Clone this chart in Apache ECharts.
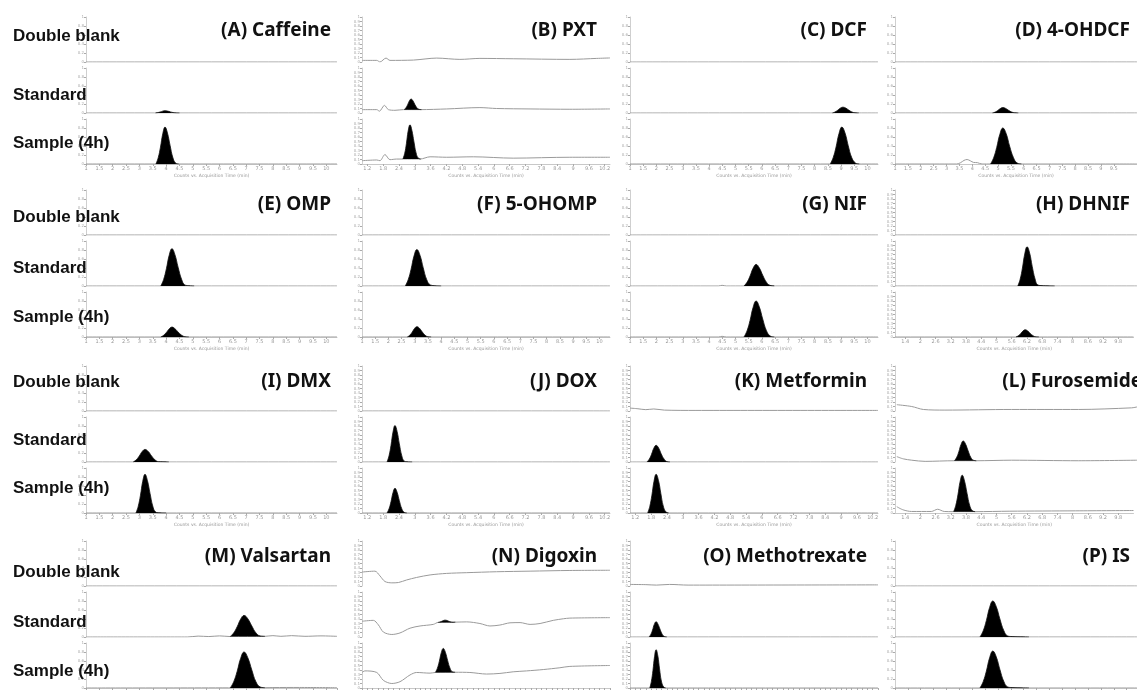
<!DOCTYPE html>
<html>
<head>
<meta charset="utf-8">
<script src="https://cdn.jsdelivr.net/npm/echarts@6/dist/echarts.min.js"></script>
<style>html,body{margin:0;padding:0;background:#fff;}#chart{width:1137px;height:690px;}</style>
</head>
<body>
<div id="chart"></div>
<script>
// ---------- labels ----------
const panelTitles = ['(A) Caffeine','(B) PXT','(C) DCF','(D) 4-OHDCF',
  '(E) OMP','(F) 5-OHOMP','(G) NIF','(H) DHNIF',
  '(I) DMX','(J) DOX','(K) Metformin','(L) Furosemide',
  '(M) Valsartan','(N) Digoxin','(O) Methotrexate','(P) IS'];
const rowLabels = ['Double blank','Standard','Sample (4h)'];
const xAxisName = 'Counts vs. Acquisition Time (min)';
const denseTicks = [false,true,false,false, false,false,false,true, false,true,true,true, false,true,true,false];

// ---------- traces (x: acquisition time, min; y: relative response) ----------
const flatLine = [[1,0],[10.4,0]];
const B_blankLine = [[1.0,0.036],[1.56,0.036],[1.68,0.0],[1.91,0.087],[2.06,0.036],[2.95,0.043],[3.83,0.087],[4.71,0.058],[5.47,0.08],[6.73,0.072],[8.88,0.058],[9.9,0.08],[10.4,0.09]];
const B_stdLine = [[1.0,0.075],[1.56,0.075],[1.66,0.04],[1.85,0.17],[2.0,0.075],[2.25,0.06],[2.57,0.075],[3.2,0.075],[4.21,0.09],[5.47,0.12],[6.1,0.1],[7.37,0.09],[8.88,0.083],[10.4,0.09]];
const B_smpLine = [[1.0,0.074],[1.56,0.089],[1.68,0.074],[1.87,0.21],[2.06,0.096],[2.31,0.11],[2.57,0.11],[3.2,0.11],[3.58,0.16],[4.21,0.15],[5.22,0.16],[6.73,0.13],[8.88,0.15],[10.4,0.15]];
const D_smpLine = [[1,0],[3.4,0],[3.55,0.03],[3.68,0.08],[3.8,0.1],[3.93,0.07],[4.05,0.035],[4.2,0.03],[4.38,0],[10.4,0]];
const G_stdLine = [[1,0],[4.35,0],[4.49,0.015],[4.65,0],[10.4,0]];
const G_smpLine = [[1,0],[4.35,0],[4.49,0.015],[4.65,0],[10.4,0]];
const K_blankLine = [[1,0.065],[1.3,0.05],[1.6,0.03],[1.9,0.045],[2.3,0.02],[3.5,0.013],[10.4,0.013]];
const L_blankLine = [[1.07,0.14],[1.65,0.10],[2.1,0.034],[2.94,0.02],[5.53,0.034],[8.12,0.034],[10.19,0.07],[10.4,0.09]];
const L_stdLine = [[1.07,0.12],[1.32,0.07],[1.65,0.04],[2.17,0.014],[3.3,0.028],[4.16,0.028],[5.53,0.04],[8.12,0.028],[10.4,0.04]];
const L_smpLine = [[1.07,0.14],[1.32,0.07],[1.65,0.034],[2.43,0.034],[2.68,0.083],[2.94,0.034],[3.3,0.03],[4.16,0.03],[5.53,0.04],[8.12,0.048],[10.4,0.055]];
const M_stdLine = [[1,0],[4.8,0],[5.2,0.02],[5.6,0.01],[6.0,0.025],[6.4,0.01],[7.7,0.015],[8.0,0.03],[8.3,0.015],[8.7,0.03],[9.2,0.015],[9.8,0.025],[10.4,0.015]];
const M_smpLine = [[1,0],[7.4,0.005],[8.0,0.01],[9.0,0.012],[10.4,0.006]];
const N_blankLine = [[1.0,0.31],[1.49,0.33],[1.68,0.225],[1.87,0.10],[2.13,0.07],[2.38,0.077],[2.69,0.134],[3.07,0.19],[3.58,0.246],[4.21,0.28],[4.97,0.296],[6.1,0.317],[7.37,0.33],[8.88,0.345],[10.4,0.35]];
const N_stdLine = [[1.0,0.35],[1.43,0.37],[1.62,0.27],[1.81,0.11],[2.13,0.056],[2.44,0.09],[2.82,0.196],[3.2,0.245],[3.7,0.28],[3.89,0.325],[4.54,0.33],[4.97,0.336],[5.47,0.30],[5.85,0.245],[6.23,0.266],[6.61,0.315],[6.99,0.32],[7.37,0.28],[7.75,0.30],[8.25,0.37],[8.63,0.405],[8.88,0.42],[10.4,0.43]];
const N_smpLine = [[1.0,0.345],[1.11,0.38],[1.56,0.345],[1.81,0.17],[2.13,0.10],[2.44,0.14],[2.82,0.29],[3.07,0.345],[3.58,0.33],[3.78,0.345],[4.53,0.35],[5.09,0.345],[5.72,0.31],[6.23,0.324],[6.73,0.36],[7.24,0.38],[7.87,0.41],[8.5,0.45],[8.88,0.48],[10.4,0.5]];
const O_blankLine = [[1,0.035],[1.6,0.03],[2.0,0.02],[2.5,0.035],[3.2,0.02],[10.4,0.025]];

// ---------- peaks (standard / sample 4h) ----------
const A_stdPeak = [[3.60,0],[3.69,0.009],[3.78,0.023],[3.87,0.041],[3.96,0.05],[4.06,0.042],[4.16,0.025],[4.27,0.009],[4.37,0.002],[4.50,0]];
const A_smpPeak = [[3.62,0],[3.705,0.14],[3.79,0.377],[3.875,0.672],[3.96,0.82],[4.05,0.689],[4.15,0.41],[4.25,0.148],[4.35,0.025],[4.47,0]];
const B_stdPeak = [[2.60,0.075],[2.665,0.115],[2.73,0.183],[2.795,0.268],[2.86,0.31],[2.93,0.272],[3.00,0.193],[3.08,0.117],[3.16,0.082],[3.25,0.075]];
const B_smpPeak = [[2.55,0.11],[2.62,0.239],[2.685,0.46],[2.75,0.733],[2.82,0.87],[2.89,0.748],[2.97,0.49],[3.05,0.247],[3.13,0.133],[3.225,0.11]];
const C_stdPeak = [[8.67,0],[8.77,0.022],[8.87,0.06],[8.97,0.107],[9.07,0.13],[9.18,0.109],[9.29,0.065],[9.41,0.023],[9.53,0.004],[9.67,0]];
const C_smpPeak = [[8.59,0],[8.70,0.14],[8.81,0.377],[8.92,0.672],[9.03,0.82],[9.15,0.689],[9.27,0.41],[9.40,0.148],[9.54,0.025],[9.69,0]];
const D_stdPeak = [[4.79,0],[4.89,0.02],[4.99,0.055],[5.09,0.098],[5.19,0.12],[5.30,0.101],[5.41,0.06],[5.53,0.022],[5.65,0.004],[5.79,0]];
const D_smpPeak = [[4.71,0],[4.83,0.136],[4.95,0.368],[5.07,0.656],[5.19,0.80],[5.32,0.672],[5.45,0.40],[5.60,0.144],[5.74,0.024],[5.91,0]];
const E_stdPeak = [[3.80,0],[3.905,0.141],[4.01,0.382],[4.115,0.681],[4.22,0.83],[4.33,0.697],[4.45,0.415],[4.58,0.149],[4.70,0.025],[4.85,0.008],[5.05,0]];
const E_smpPeak = [[3.80,0],[3.905,0.037],[4.01,0.101],[4.115,0.18],[4.22,0.22],[4.33,0.185],[4.45,0.11],[4.58,0.04],[4.70,0.007],[4.85,0]];
const F_stdPeak = [[2.64,0],[2.75,0.138],[2.86,0.373],[2.97,0.664],[3.08,0.81],[3.20,0.68],[3.32,0.405],[3.45,0.146],[3.59,0.024],[3.74,0.008],[4.0,0]];
const F_smpPeak = [[2.72,0],[2.81,0.039],[2.90,0.106],[2.99,0.189],[3.08,0.23],[3.18,0.193],[3.28,0.115],[3.39,0.041],[3.49,0.007],[3.62,0]];
const G_stdPeak = [[5.32,0],[5.435,0.082],[5.55,0.221],[5.665,0.394],[5.78,0.48],[5.90,0.403],[6.03,0.24],[6.17,0.086],[6.31,0.014],[6.47,0]];
const G_smpPeak = [[5.32,0],[5.435,0.136],[5.55,0.368],[5.665,0.656],[5.78,0.80],[5.90,0.672],[6.03,0.40],[6.17,0.144],[6.31,0.024],[6.47,0]];
const H_stdPeak = [[5.77,0],[5.86,0.148],[5.95,0.40],[6.04,0.713],[6.13,0.87],[6.23,0.731],[6.33,0.435],[6.44,0.157],[6.54,0.026],[6.67,0.01],[7.2,0]];
const H_smpPeak = [[5.77,0],[5.86,0.027],[5.95,0.074],[6.04,0.131],[6.13,0.16],[6.23,0.134],[6.33,0.08],[6.44,0.029],[6.54,0.005],[6.67,0]];
const I_stdPeak = [[2.77,0],[2.88,0.048],[2.99,0.129],[3.10,0.23],[3.21,0.28],[3.33,0.235],[3.45,0.14],[3.58,0.05],[3.72,0.008],[3.87,0.005],[4.1,0]];
const I_smpPeak = [[2.87,0],[2.955,0.146],[3.04,0.396],[3.125,0.705],[3.21,0.86],[3.30,0.722],[3.40,0.43],[3.50,0.155],[3.60,0.026],[3.72,0.006],[4.0,0]];
const J_stdPeak = [[1.95,0],[2.025,0.138],[2.10,0.373],[2.175,0.664],[2.25,0.81],[2.33,0.68],[2.415,0.405],[2.505,0.146],[2.595,0.024],[2.70,0.006],[2.9,0]];
const J_smpPeak = [[1.95,0],[2.025,0.094],[2.10,0.253],[2.175,0.451],[2.25,0.55],[2.33,0.462],[2.415,0.275],[2.505,0.099],[2.595,0.017],[2.70,0]];
const K_stdPeak = [[1.64,0],[1.73,0.063],[1.815,0.17],[1.90,0.303],[1.99,0.37],[2.085,0.311],[2.18,0.185],[2.29,0.067],[2.39,0.011],[2.515,0]];
const K_smpPeak = [[1.67,0],[1.75,0.146],[1.83,0.396],[1.91,0.705],[1.99,0.86],[2.08,0.722],[2.17,0.43],[2.26,0.155],[2.36,0.026],[2.47,0]];
const L_stdPeak = [[3.31,0.028],[3.395,0.103],[3.48,0.23],[3.565,0.389],[3.65,0.468],[3.74,0.398],[3.84,0.248],[3.94,0.107],[4.04,0.041],[4.16,0.028]];
const L_smpPeak = [[3.31,0.03],[3.395,0.168],[3.48,0.403],[3.565,0.694],[3.65,0.84],[3.74,0.71],[3.84,0.435],[3.94,0.176],[4.04,0.054],[4.16,0.03]];
const M_stdPeak = [[6.40,0.01],[6.53,0.09],[6.66,0.226],[6.79,0.395],[6.92,0.48],[7.06,0.405],[7.21,0.245],[7.36,0.095],[7.52,0.024],[7.70,0.015]];
const M_smpPeak = [[6.40,0],[6.53,0.136],[6.66,0.368],[6.79,0.656],[6.92,0.80],[7.06,0.672],[7.21,0.40],[7.36,0.144],[7.52,0.024],[7.70,0.005]];
const N_stdPeak = [[3.89,0.325],[3.955,0.334],[4.02,0.348],[4.085,0.366],[4.15,0.375],[4.22,0.367],[4.29,0.35],[4.37,0.334],[4.45,0.327],[4.54,0.33]];
const N_smpPeak = [[3.78,0.345],[3.855,0.436],[3.93,0.591],[4.005,0.784],[4.08,0.88],[4.16,0.794],[4.245,0.613],[4.335,0.441],[4.425,0.361],[4.53,0.35]];
const O_stdPeak = [[1.72,0],[1.79,0.058],[1.855,0.156],[1.92,0.279],[1.99,0.34],[2.06,0.286],[2.14,0.17],[2.22,0.061],[2.30,0.01],[2.395,0]];
const O_smpPeak = [[1.75,0],[1.81,0.145],[1.87,0.391],[1.93,0.697],[1.99,0.85],[2.055,0.714],[2.12,0.425],[2.19,0.153],[2.27,0.026],[2.35,0]];
const P_stdPeak = [[4.30,0],[4.425,0.136],[4.55,0.368],[4.675,0.656],[4.80,0.80],[4.935,0.672],[5.075,0.40],[5.225,0.144],[5.375,0.024],[5.55,0.01],[6.2,0]];
const P_smpPeak = [[4.30,0],[4.425,0.14],[4.55,0.377],[4.675,0.672],[4.80,0.82],[4.935,0.689],[5.075,0.41],[5.225,0.148],[5.375,0.025],[5.55,0.01],[6.2,0]];

const panelLines = [
  [flatLine, flatLine, flatLine], [B_blankLine, B_stdLine, B_smpLine], [flatLine, flatLine, flatLine], [flatLine, flatLine, D_smpLine],
  [flatLine, flatLine, flatLine], [flatLine, flatLine, flatLine], [flatLine, G_stdLine, G_smpLine], [flatLine, flatLine, flatLine],
  [flatLine, flatLine, flatLine], [flatLine, flatLine, flatLine], [K_blankLine, flatLine, flatLine], [L_blankLine, L_stdLine, L_smpLine],
  [flatLine, M_stdLine, M_smpLine], [N_blankLine, N_stdLine, N_smpLine], [O_blankLine, flatLine, flatLine], [flatLine, flatLine, flatLine]
];
const panelPeaks = [
  [A_stdPeak, A_smpPeak], [B_stdPeak, B_smpPeak], [C_stdPeak, C_smpPeak], [D_stdPeak, D_smpPeak],
  [E_stdPeak, E_smpPeak], [F_stdPeak, F_smpPeak], [G_stdPeak, G_smpPeak], [H_stdPeak, H_smpPeak],
  [I_stdPeak, I_smpPeak], [J_stdPeak, J_smpPeak], [K_stdPeak, K_smpPeak], [L_stdPeak, L_smpPeak],
  [M_stdPeak, M_smpPeak], [N_stdPeak, N_smpPeak], [O_stdPeak, O_smpPeak], [P_stdPeak, P_smpPeak]
];

// ---------- layout ----------
const colLeft = [86, 362, 630, 895];
const colWidth = [251, 248, 248, 242];
const rowTop = [17, 190, 366, 541];
const subOffset = [0, 51, 102];
const subH = 45;
const titleRight = [331, 597, 867, 1130];
const titleCenterY = [31, 205, 382, 557];
const labelCenterY = [[36, 95, 143], [217, 268, 317], [382, 440, 488], [572, 622, 671]];

const grids = [], xAxes = [], yAxes = [], series = [], graphics = [];
for (let i = 0; i < 16; i++) {
  const c = i % 4, r = Math.floor(i / 4);
  for (let k = 0; k < 3; k++) {
    const g = i * 3 + k;
    const bottomSub = k === 2;
    grids.push({left: colLeft[c], width: colWidth[c], top: rowTop[r] + subOffset[k], height: subH});
    xAxes.push({
      type: 'value', gridIndex: g, min: 1, max: 10.4, interval: denseTicks[i] ? 0.2 : 0.5,
      axisLine: {show: bottomSub, lineStyle: {color: '#c8c8c8', width: 1}},
      axisTick: {show: bottomSub, length: 2, lineStyle: {color: '#aaa'}},
      axisLabel: {show: bottomSub && r < 3, fontSize: 5, color: '#999', margin: 2, hideOverlap: true,
        fontFamily: 'DejaVu Sans'},
      name: (bottomSub && r < 3) ? xAxisName : '', nameLocation: 'middle', nameGap: 9,
      nameTextStyle: {fontSize: 4.5, color: '#999', fontFamily: 'DejaVu Sans'},
      splitLine: {show: false}
    });
    yAxes.push({
      type: 'value', gridIndex: g, min: 0, max: 1, interval: denseTicks[i] ? 0.1 : 0.2,
      axisLine: {show: true, lineStyle: {color: '#cfcfcf', width: 1}},
      axisTick: {show: true, length: 2, lineStyle: {color: '#aaa'}},
      axisLabel: {show: true, fontSize: 4, color: '#aaa', margin: 2, fontFamily: 'DejaVu Sans'},
      splitLine: {show: false}
    });
    series.push({
      type: 'line', xAxisIndex: g, yAxisIndex: g, data: panelLines[i][k], symbol: 'none',
      smooth: 0.3, lineStyle: {color: '#9a9a9a', width: 1}, z: 2, silent: true
    });
    if (k > 0) {
      const pk = panelPeaks[i][k - 1];
      series.push({
        type: 'line', xAxisIndex: g, yAxisIndex: g, data: pk, symbol: 'none', smooth: 0.45,
        lineStyle: {color: '#111', width: 0.8},
        areaStyle: {color: '#000', opacity: 1, origin: pk[0][1]}, z: 3, silent: true
      });
    }
    if (c === 0) {
      graphics.push({type: 'text', x: 13, y: labelCenterY[r][k], z: 10,
        style: {text: rowLabels[k], font: 'bold 17px "Liberation Sans", Arial, sans-serif', fill: '#111', verticalAlign: 'middle'}});
    }
  }
  const tr = (i === 11) ? 1142 : titleRight[c];
  graphics.push({type: 'text', x: tr, y: titleCenterY[r], z: 10,
    style: {text: panelTitles[i], font: 'bold 19px "Noto Sans", sans-serif', fill: '#111', align: 'right', verticalAlign: 'middle'}});
}

const chart = echarts.init(document.getElementById('chart'), null, {renderer: 'canvas'});
chart.setOption({
  animation: false,
  grid: grids, xAxis: xAxes, yAxis: yAxes, series: series, graphic: graphics
});
</script>
</body>
</html>
